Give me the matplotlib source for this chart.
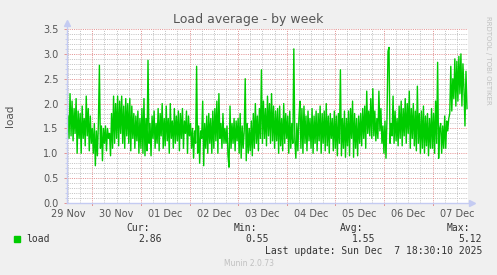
import numpy as np
import matplotlib
matplotlib.use("Agg")
import matplotlib.pyplot as plt

# ---------------------------------------------------------------
#  Data (half-hour averages, hours counted from 29 Nov 00:00)
# ---------------------------------------------------------------
START_HOUR = 12.0
STEP_HOURS = 0.5

load = [
    # 29 Nov 12:00 - 30 Nov 00:00
    1.75, 1.3, 2.2, 1.35, 2.05, 1.25, 1.9, 1.4, 2.1, 1.0, 1.85, 1.3,
    1.8, 1.0, 1.95, 1.3, 1.7, 1.15, 2.15, 1.35, 1.9, 1.05, 1.75, 1.2,
    # 30 Nov
    1.5, 1.0, 1.6, 0.75, 1.45, 0.95, 1.6, 2.77, 1.1, 1.55, 0.85, 1.5,
    1.2, 1.55, 1.05, 1.5, 1.3, 1.4, 0.95, 1.8, 1.1, 2.15, 1.2, 2.0,
    1.3, 2.15, 1.15, 2.05, 1.4, 2.15, 1.2, 1.95, 1.1, 2.1, 1.35, 2.0,
    1.2, 2.1, 1.05, 1.95, 1.3, 1.8, 1.1, 1.75, 1.25, 1.85, 1.0, 1.7,
    # 01 Dec
    1.1, 1.9, 1.0, 2.1, 0.95, 1.7, 1.05, 2.87, 1.2, 1.6, 0.95, 1.75,
    1.3, 1.85, 1.1, 1.6, 1.2, 1.9, 1.05, 1.8, 1.35, 2.0, 1.1, 1.7,
    1.15, 1.95, 1.25, 1.7, 1.0, 2.0, 1.3, 1.65, 1.1, 1.9, 1.2, 1.75,
    1.25, 1.85, 1.05, 1.8, 1.3, 1.9, 1.1, 1.65, 1.4, 1.85, 1.0, 1.75,
    # 02 Dec
    1.35, 1.6, 1.1, 1.5, 0.9, 1.45, 1.2, 2.75, 1.0, 1.55, 0.8, 1.45,
    1.3, 2.05, 0.75, 1.6, 1.1, 1.75, 1.0, 1.8, 1.2, 1.7, 1.0, 1.85,
    1.1, 1.9, 1.25, 2.05, 1.0, 2.2, 1.3, 1.6, 1.1, 1.8, 1.2, 1.5,
    1.2, 1.55, 0.95, 0.72, 1.95, 1.1, 1.6, 1.2, 1.7, 1.05, 1.65, 1.25,
    # 03 Dec
    1.7, 1.0, 1.8, 0.9, 1.55, 1.1, 1.45, 2.5, 0.85, 1.6, 1.0, 1.5,
    1.05, 1.65, 0.95, 1.8, 1.1, 2.0, 1.2, 1.75, 1.05, 1.9, 1.3, 2.68,
    1.2, 2.05, 1.3, 1.9, 1.15, 2.15, 1.35, 2.0, 1.2, 2.2, 1.25, 1.95,
    1.1, 1.85, 1.25, 1.9, 1.0, 1.95, 1.15, 1.7, 1.05, 2.0, 1.2, 1.8,
    # 04 Dec
    1.3, 1.75, 1.0, 1.85, 1.1, 1.6, 1.2, 3.1, 1.25, 0.9, 1.6, 1.05,
    1.7, 2.05, 1.1, 1.9, 1.0, 1.95, 1.2, 1.75, 1.05, 1.85, 1.25, 1.7,
    1.1, 1.9, 1.0, 1.75, 1.2, 1.85, 1.05, 1.8, 1.25, 1.95, 1.0, 1.8,
    1.2, 1.85, 1.05, 2.0, 1.15, 1.75, 1.0, 1.8, 1.3, 1.7, 1.05, 1.85,
    # 05 Dec
    1.1, 1.75, 0.95, 1.8, 1.2, 2.68, 0.95, 1.7, 1.1, 1.85, 0.92, 1.7,
    1.15, 1.85, 0.95, 1.9, 1.3, 2.05, 0.92, 1.8, 1.1, 1.7, 0.95, 1.75,
    1.2, 1.8, 1.15, 1.9, 1.3, 1.95, 1.1, 2.25, 1.4, 1.85, 1.35, 2.1,
    1.3, 2.3, 1.35, 1.85, 1.25, 1.7, 1.3, 2.25, 1.45, 1.9, 1.2, 1.55,
    # 06 Dec
    1.0, 1.65, 0.9, 1.7, 3.05, 3.13, 1.2, 1.6, 1.35, 2.15, 1.2, 1.85,
    1.25, 1.7, 1.15, 1.95, 1.3, 2.05, 1.15, 1.9, 1.35, 2.1, 1.2, 2.0,
    1.4, 2.25, 1.1, 1.9, 1.3, 2.0, 1.15, 1.85, 1.05, 2.35, 1.2, 1.8,
    1.0, 1.85, 1.1, 1.95, 1.0, 1.75, 1.15, 1.8, 0.95, 1.7, 1.1, 1.9,
    # 07 Dec
    1.1, 1.8, 1.0, 2.05, 1.2, 2.83, 0.9, 1.5, 1.6, 1.0, 1.55, 1.1,
    1.75, 1.1, 1.65, 1.45, 1.7, 1.8, 2.75, 1.85, 2.5, 2.1, 2.9, 1.95,
    2.85, 2.05, 2.95, 2.2, 3.0, 1.95, 2.8, 2.3, 1.55, 2.65, 1.9,
]

day_labels = ["29 Nov", "30 Nov", "01 Dec", "02 Dec", "03 Dec",
              "04 Dec", "05 Dec", "06 Dec", "07 Dec"]
y_labels = ["0.0", "0.5", "1.0", "1.5", "2.0", "2.5", "3.0", "3.5"]

stat_names = ["Cur:", "Min:", "Avg:", "Max:"]
stat_values = ["2.86", "0.55", "1.55", "5.12"]
last_update = "Last update: Sun Dec  7 18:30:10 2025"

# ---------------------------------------------------------------
#  Look
# ---------------------------------------------------------------
W, H = 497, 275
BG = "#F0F0F0"
GREEN = "#00CC00"
AXIS = "#C4CBF2"
MGRID = "#E49494"
GRID = "#C4C4C4"
TEXT = "#555555"
FAINT = "#C0C0C0"


def fx(px):
    return px / W


def fy(py):
    return 1 - py / H


fig = plt.figure(figsize=(W / 100, H / 100), dpi=100, facecolor=BG)
ax = fig.add_axes([fx(67), fy(203), (468 - 67) / W, (203 - 29) / H])
ax.set_facecolor("white")

hours = START_HOUR + STEP_HOURS * np.arange(len(load))
ax.set_xlim(11.5, 209.5)
ax.set_ylim(0, 3.5)

# grid: minor every 0.1 / 6h, major every 0.5 / day
dots = (0, (1, 1.2))
GLW = 0.72
for v in np.arange(0.1, 3.51, 0.1):
    if abs(v * 2 - round(v * 2)) > 1e-6:
        ax.axhline(v, color=GRID, lw=GLW, ls=dots, zorder=0)
for v in np.arange(0.5, 3.51, 0.5):
    ax.axhline(v, color=MGRID, lw=GLW, ls=dots, zorder=1)
for h in np.arange(12, 210, 6):
    if h % 24:
        ax.axvline(h, color=GRID, lw=GLW, ls=dots, zorder=0)
for h in np.arange(24, 210, 24):
    ax.axvline(h, color=MGRID, lw=GLW, ls=dots, zorder=1)
    ax.plot([h, h], [0, -0.05], color=MGRID, lw=GLW, clip_on=False)

ax.plot(hours, load, color=GREEN, lw=1.0, zorder=3)

# axes with arrow heads, rrdtool style
for s in ax.spines.values():
    s.set_visible(False)
ax.plot([0, 0], [0, 1.035], color=AXIS, lw=1, transform=ax.transAxes,
        clip_on=False, zorder=4)
ax.plot([0, 1.01], [0, 0], color=AXIS, lw=1, transform=ax.transAxes,
        clip_on=False, zorder=4)
ax.plot([0], [1.035], marker="^", ms=4, color=AXIS, transform=ax.transAxes,
        clip_on=False, zorder=4)
ax.plot([1.01], [0], marker=">", ms=4, color=AXIS, transform=ax.transAxes,
        clip_on=False, zorder=4)

ax.set_yticks(np.arange(0, 3.51, 0.5))
ax.set_yticks(np.arange(0, 3.51, 0.1), minor=True)
ax.set_yticklabels(y_labels, fontsize=7, color=TEXT)
ax.set_xticks(np.arange(12, 210, 24))
ax.set_xticklabels(day_labels, fontsize=7, color=TEXT)
ax.tick_params(axis="y", which="major", length=2, width=0.7, color=MGRID, pad=4)
ax.tick_params(axis="y", which="minor", length=1.5, width=0.7, color=AXIS)
ax.tick_params(axis="x", length=0, pad=4)

# texts
fig.text(fx(248), fy(20), "Load average - by week", ha="center", va="center",
         fontsize=9, color=TEXT)
fig.text(fx(10), fy(116), "load", rotation=90, ha="center", va="center",
         fontsize=7.5, color=TEXT)
fig.text(fx(488), fy(60), "RRDTOOL / TOBI OETIKER", rotation=270,
         ha="center", va="center", fontsize=5, color=FAINT)
fig.text(fx(249), fy(264), "Munin 2.0.73", ha="center", va="center",
         fontsize=5.5, color=FAINT)

# legend block
mono = "DejaVu Sans Mono"
fig.patches.append(plt.Rectangle((fx(14), fy(242)), 6 / W, 6 / H,
                                 transform=fig.transFigure, color=GREEN))
fig.text(fx(26), fy(239.5), "load", family=mono, fontsize=7, color="#333333",
         va="center")
name_right = [150, 257, 363, 470]
value_right = [162, 269, 375, 482]
for name, nx, val, vx in zip(stat_names, name_right, stat_values, value_right):
    fig.text(fx(nx), fy(228), name, family=mono, fontsize=7, color="#333333",
             ha="right", va="center")
    fig.text(fx(vx), fy(239.5), val, family=mono, fontsize=7, color="#333333",
             ha="right", va="center")
fig.text(fx(482), fy(251.5), last_update, family=mono, fontsize=7,
         color="#333333", ha="right", va="center")

fig.savefig("out.png", dpi=100, facecolor=BG)
